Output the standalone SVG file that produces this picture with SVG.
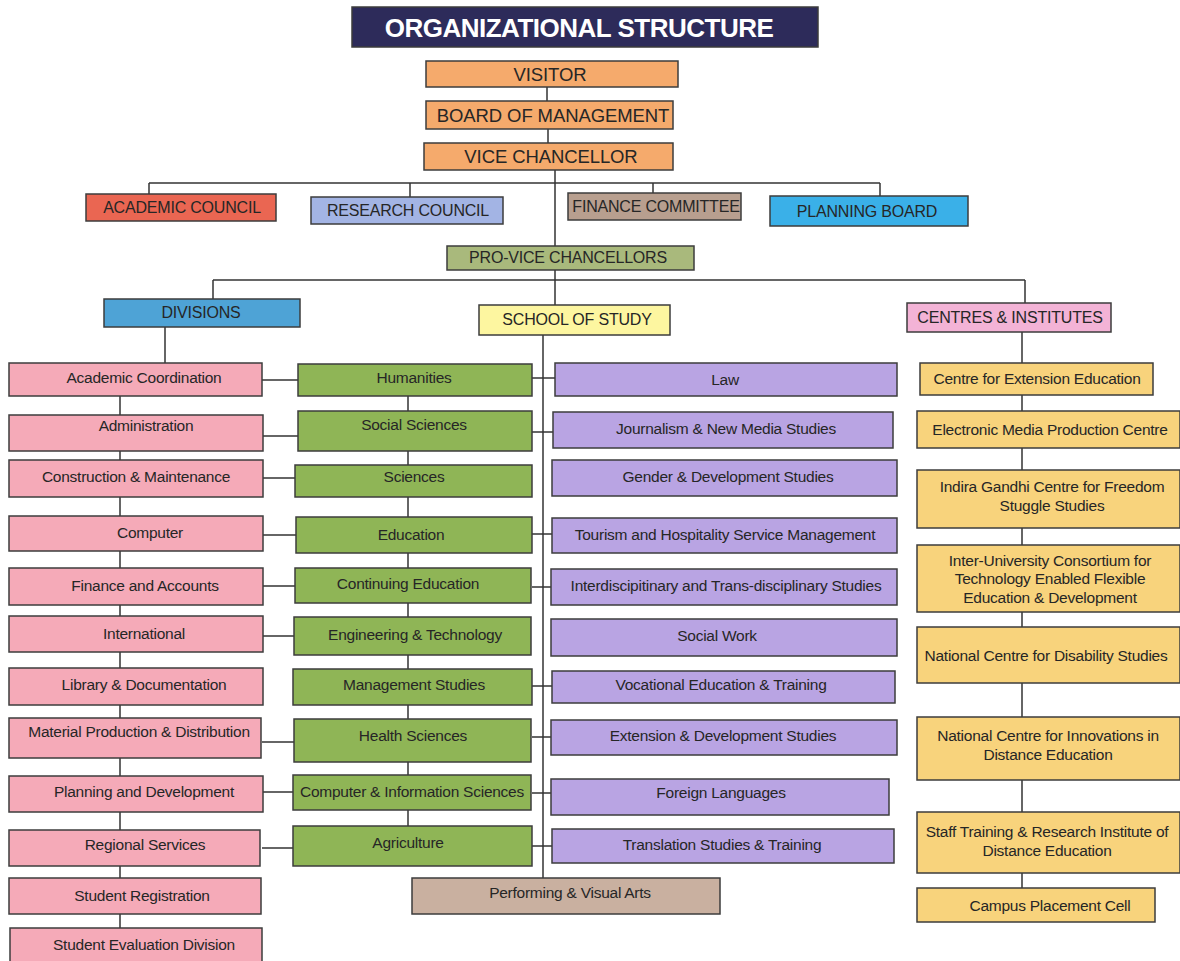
<svg xmlns="http://www.w3.org/2000/svg" width="1180" height="961" viewBox="0 0 1180 961">
<style>
rect{stroke:#3d3d3d;stroke-width:1.5}
text{font-family:"Liberation Sans",Arial,sans-serif;font-size:15.5px;fill:#262626;text-anchor:middle;letter-spacing:-0.25px}
.up{font-size:16px;letter-spacing:-0.2px}
.top{font-size:18.5px;letter-spacing:-0.1px}
.title{font-size:26px;font-weight:bold;fill:#ffffff;letter-spacing:-0.5px}
.conn line{stroke:#333;stroke-width:1.5}
.or{fill:#f5aa6c}.pk{fill:#f5aab8}.gr{fill:#8fb556}.pu{fill:#b9a4e3}.ye{fill:#f8d37c}
</style>
<rect width="1180" height="961" fill="#ffffff" style="stroke:none"/>
<g class="conn" id="connectors">
<line x1="547" y1="87" x2="547" y2="101"/>
<line x1="548" y1="129" x2="548" y2="143"/>
<line x1="555" y1="170" x2="555" y2="305"/>
<line x1="149" y1="183" x2="880" y2="183"/>
<line x1="149" y1="183" x2="149" y2="194"/>
<line x1="410" y1="183" x2="410" y2="197"/>
<line x1="653" y1="183" x2="653" y2="193"/>
<line x1="880" y1="183" x2="880" y2="196"/>
<line x1="213" y1="280" x2="1025" y2="280"/>
<line x1="213" y1="280" x2="213" y2="299"/>
<line x1="1025" y1="280" x2="1025" y2="303"/>
<line x1="165" y1="327" x2="165" y2="363"/>
<line x1="120" y1="396" x2="120" y2="928"/>
<line x1="408" y1="396" x2="408" y2="826"/>
<line x1="543" y1="335" x2="543" y2="878"/>
<line x1="1022" y1="332" x2="1022" y2="888"/>
<line x1="262" y1="380" x2="298" y2="380"/>
<line x1="262" y1="436" x2="298" y2="436"/>
<line x1="262" y1="478" x2="295" y2="478"/>
<line x1="262" y1="535" x2="296" y2="535"/>
<line x1="262" y1="586" x2="295" y2="586"/>
<line x1="262" y1="636" x2="294" y2="636"/>
<line x1="262" y1="742" x2="295" y2="742"/>
<line x1="262" y1="792" x2="295" y2="792"/>
<line x1="262" y1="848" x2="295" y2="848"/>
<line x1="532" y1="378" x2="555" y2="378"/>
<line x1="532" y1="432" x2="553" y2="432"/>
<line x1="532" y1="534" x2="552" y2="534"/>
<line x1="532" y1="587" x2="551" y2="587"/>
<line x1="532" y1="686" x2="552" y2="686"/>
<line x1="532" y1="737" x2="551" y2="737"/>
<line x1="532" y1="793" x2="551" y2="793"/>
<line x1="532" y1="846" x2="552" y2="846"/>
</g>
<g id="title"><rect x="352" y="7" width="466" height="40" fill="#2d2b5a"/><text class="title" x="579" y="37">ORGANIZATIONAL STRUCTURE</text></g>
<g id="visitor"><rect class="or" x="426" y="61" width="252" height="26"/><text class="top" x="550" y="81">VISITOR</text></g>
<g id="board"><rect class="or" x="426" y="101" width="247" height="28"/><text class="top" x="553" y="122">BOARD OF MANAGEMENT</text></g>
<g id="vc"><rect class="or" x="424" y="143" width="249" height="27"/><text class="top" x="551" y="163">VICE  CHANCELLOR</text></g>
<g id="academic-council"><rect x="86" y="194" width="190" height="27" fill="#ea6652"/><text class="up" x="182" y="213">ACADEMIC COUNCIL</text></g>
<g id="research-council"><rect x="311" y="197" width="192" height="27" fill="#a3b4e4"/><text class="up" x="408" y="216">RESEARCH COUNCIL</text></g>
<g id="finance-committee"><rect x="568" y="193" width="173" height="27" fill="#b89f8f"/><text class="up" x="656" y="212">FINANCE COMMITTEE</text></g>
<g id="planning-board"><rect x="770" y="196" width="198" height="30" fill="#3ab0e8"/><text class="up" x="867" y="217">PLANNING BOARD</text></g>
<g id="pro-vice"><rect x="447" y="246" width="247" height="24" fill="#a9b97c"/><text class="up" x="568" y="263">PRO-VICE CHANCELLORS</text></g>
<g id="divisions"><rect x="104" y="299" width="196" height="28" fill="#4ea3d6"/><text class="up" x="201" y="318">DIVISIONS</text></g>
<g id="school"><rect x="479" y="305" width="191" height="30" fill="#fdf6a0"/><text class="up" x="577" y="325">SCHOOL OF STUDY</text></g>
<g id="centres"><rect x="907" y="303" width="204" height="29" fill="#f3b3d6"/><text class="up" x="1010" y="323">CENTRES &amp; INSTITUTES</text></g>

<g id="d1"><rect class="pk" x="9" y="363" width="253" height="33"/><text x="144" y="383">Academic Coordination</text></g>
<g id="d2"><rect class="pk" x="9" y="415" width="254" height="36"/><text x="146" y="431">Administration</text></g>
<g id="d3"><rect class="pk" x="9" y="460" width="254" height="37"/><text x="136" y="482">Construction &amp; Maintenance</text></g>
<g id="d4"><rect class="pk" x="9" y="516" width="254" height="35"/><text x="150" y="538">Computer</text></g>
<g id="d5"><rect class="pk" x="9" y="568" width="254" height="37"/><text x="145" y="591">Finance and Accounts</text></g>
<g id="d6"><rect class="pk" x="9" y="616" width="254" height="36"/><text x="144" y="639">International</text></g>
<g id="d7"><rect class="pk" x="9" y="668" width="254" height="37"/><text x="144" y="690">Library &amp; Documentation</text></g>
<g id="d8"><rect class="pk" x="9" y="718" width="252" height="40"/><text x="139" y="737">Material Production &amp; Distribution</text></g>
<g id="d9"><rect class="pk" x="9" y="776" width="254" height="36"/><text x="144" y="797">Planning and Development</text></g>
<g id="d10"><rect class="pk" x="9" y="830" width="251" height="36"/><text x="145" y="850">Regional Services</text></g>
<g id="d11"><rect class="pk" x="9" y="878" width="252" height="36"/><text x="142" y="901">Student Registration</text></g>
<g id="d12"><rect class="pk" x="10" y="928" width="252" height="36"/><text x="144" y="950">Student Evaluation Division</text></g>

<g id="s1"><rect class="gr" x="298" y="364" width="234" height="32"/><text x="414" y="383">Humanities</text></g>
<g id="s2"><rect class="gr" x="298" y="411" width="234" height="40"/><text x="414" y="430">Social Sciences</text></g>
<g id="s3"><rect class="gr" x="295" y="465" width="237" height="32"/><text x="414" y="482">Sciences</text></g>
<g id="s4"><rect class="gr" x="296" y="517" width="236" height="36"/><text x="411" y="540">Education</text></g>
<g id="s5"><rect class="gr" x="295" y="568" width="236" height="35"/><text x="408" y="589">Continuing Education</text></g>
<g id="s6"><rect class="gr" x="294" y="617" width="237" height="38"/><text x="415" y="640">Engineering &amp; Technology</text></g>
<g id="s7"><rect class="gr" x="293" y="669" width="239" height="36"/><text x="414" y="690">Management Studies</text></g>
<g id="s8"><rect class="gr" x="294" y="719" width="237" height="43"/><text x="413" y="741">Health Sciences</text></g>
<g id="s9"><rect class="gr" x="293" y="775" width="238" height="35"/><text x="412" y="797">Computer &amp; Information Sciences</text></g>
<g id="s10"><rect class="gr" x="293" y="826" width="239" height="40"/><text x="408" y="848">Agriculture</text></g>

<g id="p1"><rect class="pu" x="555" y="363" width="342" height="33"/><text x="725" y="385">Law</text></g>
<g id="p2"><rect class="pu" x="553" y="412" width="340" height="36"/><text x="726" y="434">Journalism &amp; New Media Studies</text></g>
<g id="p3"><rect class="pu" x="552" y="460" width="345" height="36"/><text x="728" y="482">Gender &amp; Development Studies</text></g>
<g id="p4"><rect class="pu" x="552" y="518" width="345" height="35"/><text x="725" y="540">Tourism and Hospitality Service Management</text></g>
<g id="p5"><rect class="pu" x="551" y="569" width="346" height="36"/><text x="726" y="591">Interdiscipitinary and Trans-disciplinary Studies</text></g>
<g id="p6"><rect class="pu" x="551" y="619" width="346" height="37"/><text x="717" y="641">Social Work</text></g>
<g id="p7"><rect class="pu" x="552" y="671" width="343" height="32"/><text x="721" y="690">Vocational Education &amp; Training</text></g>
<g id="p8"><rect class="pu" x="551" y="720" width="346" height="35"/><text x="723" y="741">Extension &amp; Development Studies</text></g>
<g id="p9"><rect class="pu" x="551" y="779" width="338" height="36"/><text x="721" y="798">Foreign Languages</text></g>
<g id="p10"><rect class="pu" x="552" y="829" width="342" height="34"/><text x="722" y="850">Translation Studies &amp; Training</text></g>
<g id="p11"><rect x="412" y="878" width="308" height="36" fill="#c9b0a0"/><text x="570" y="898">Performing &amp; Visual Arts</text></g>

<g id="c1"><rect class="ye" x="920" y="363" width="233" height="32"/><text x="1037" y="384">Centre for Extension Education</text></g>
<g id="c2"><rect class="ye" x="917" y="411" width="263" height="37"/><text x="1050" y="435">Electronic Media Production Centre</text></g>
<g id="c3"><rect class="ye" x="917" y="470" width="263" height="58"/><text x="1052" y="492">Indira Gandhi Centre for Freedom</text><text x="1052" y="511">Stuggle Studies</text></g>
<g id="c4"><rect class="ye" x="917" y="545" width="263" height="67"/><text x="1050" y="566">Inter-University Consortium for</text><text x="1050" y="584">Technology Enabled Flexible</text><text x="1050" y="603">Education &amp; Development</text></g>
<g id="c5"><rect class="ye" x="917" y="627" width="263" height="56"/><text x="1046" y="661">National Centre for Disability Studies</text></g>
<g id="c6"><rect class="ye" x="917" y="717" width="263" height="63"/><text x="1048" y="741">National Centre for Innovations in</text><text x="1048" y="760">Distance Education</text></g>
<g id="c7"><rect class="ye" x="917" y="812" width="263" height="61"/><text x="1047" y="837">Staff Training &amp; Research Institute of</text><text x="1047" y="856">Distance Education</text></g>
<g id="c8"><rect class="ye" x="917" y="888" width="238" height="34"/><text x="1050" y="911">Campus Placement Cell</text></g>
</svg>
